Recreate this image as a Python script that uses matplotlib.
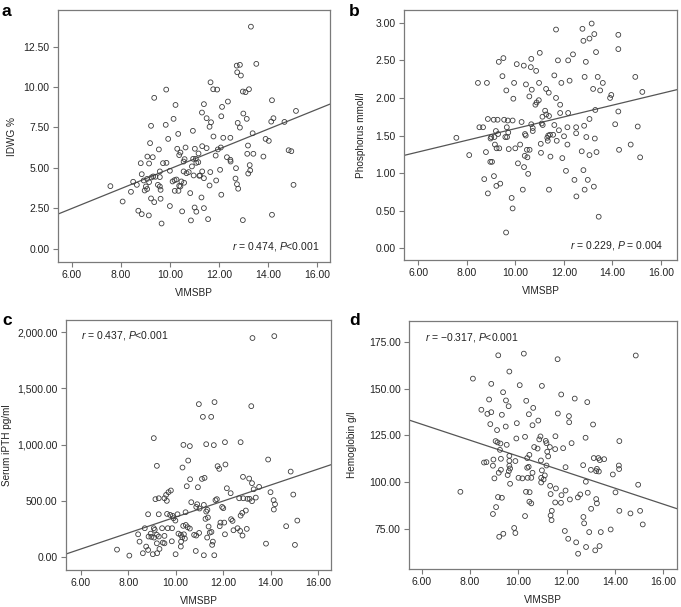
import matplotlib
matplotlib.use("Agg")
import matplotlib.pyplot as plt
from matplotlib.ticker import MultipleLocator, StrMethodFormatter

plt.rcParams["font.family"] = ["Liberation Sans", "DejaVu Sans"]
plt.rcParams["mathtext.fontset"] = "custom"
plt.rcParams["mathtext.it"] = "Liberation Sans:italic"
plt.rcParams["mathtext.rm"] = "Liberation Sans"

# ---- panel a : IDWG % vs VIMSBP ----
vim_a = [13.31,
         12.73, 12.86, 12.75, 12.90, 13.53,
         11.66, 11.77, 11.93, 9.85, 12.98, 13.09, 13.23,
         9.36, 11.39, 10.23, 12.37, 12.13, 14.17,
         15.15, 11.31, 13.00, 12.10, 11.50, 10.15, 14.23, 14.14, 14.68, 11.68, 12.77, 13.14, 9.23, 9.83, 11.62, 12.86,
         10.94, 10.34, 13.38, 11.78, 12.18, 12.47, 9.93, 13.91, 14.04, 9.19, 13.19,
         9.55, 10.30, 10.64, 11.02, 11.32, 11.50, 12.08, 11.96, 10.43, 14.85, 14.96, 9.08, 9.30,
         10.38, 11.17, 11.87, 12.33, 13.16, 13.41, 13.82, 12.47, 12.48, 10.95, 11.06, 10.60, 10.56,
         8.81, 9.15, 9.72, 9.86, 11.08, 11.16, 10.90, 13.26, 12.70, 8.85, 9.59,
         10.00, 10.56, 10.68, 10.77, 10.97, 11.20, 11.32, 11.65, 12.05, 13.20, 13.28,
         8.50, 8.65, 8.93, 9.07, 9.15, 9.25, 9.32, 9.41, 9.59, 10.11, 10.19, 10.27,
         10.47, 10.58, 11.39, 11.23, 11.89, 12.68, 12.74, 15.05, 7.57, 8.41, 9.02, 9.07,
         8.97, 9.51, 9.59, 9.62, 10.20, 10.35, 10.38, 10.43, 11.62, 12.79, 12.10, 10.83,
         8.07, 9.23, 9.36, 9.62, 11.29, 8.71, 8.85, 9.14, 10.00,
         10.50, 11.01, 11.08, 11.39, 9.66, 10.86, 11.56, 12.98, 14.17]
idwg = [13.73,
        11.32, 11.37, 10.91, 10.71, 11.43,
        10.29, 9.86, 9.84, 9.84, 9.72, 9.68, 9.86,
        9.33, 8.94, 8.89, 9.10, 8.77, 9.18,
        8.52, 8.42, 8.36, 8.19, 8.07, 8.03, 8.07, 7.86, 7.84, 7.82, 7.78, 8.03, 7.60, 7.66, 7.54, 7.49,
        7.29, 7.10, 7.14, 6.94, 6.86, 6.86, 6.79, 6.79, 6.67, 6.53, 6.38,
        6.14, 6.18, 6.26, 6.18, 6.34, 6.22, 6.26, 6.14, 5.95, 6.09, 6.03, 5.70, 5.66,
        5.79, 5.89, 5.76, 5.66, 5.87, 5.87, 5.70, 5.50, 5.39, 5.56, 5.56, 5.54, 5.39,
        5.29, 5.27, 5.29, 5.31, 5.31, 5.35, 5.09, 5.17, 4.98, 4.61, 4.78,
        4.82, 4.78, 4.67, 4.74, 4.53, 4.51, 4.78, 4.74, 4.88, 4.65, 4.84,
        4.14, 3.95, 4.22, 4.32, 4.12, 4.41, 4.47, 4.45, 4.43, 4.16, 4.24, 4.28,
        4.16, 4.08, 4.36, 4.53, 4.22, 4.34, 3.99, 3.95, 3.87, 3.52, 3.85, 3.69,
        3.60, 3.95, 3.85, 3.64, 3.58, 3.58, 3.89, 3.85, 3.91, 3.71, 3.34, 3.44,
        2.92, 3.11, 2.88, 3.09, 3.17, 2.35, 2.14, 2.06, 2.64,
        2.31, 2.55, 2.29, 2.51, 1.56, 1.75, 1.83, 1.77, 2.10]
fit_a = (-1.18, 0.612)   # intercept, slope

# ---- panel b : phosphorus ----
vim_b = [13.15, 12.77, 11.68, 13.26, 14.25, 13.06, 12.81, 14.25, 13.33, 11.01,
         12.38, 9.51, 9.32, 10.66, 11.76, 12.18, 12.91, 10.06, 10.35, 10.64,
         10.86, 9.47, 11.61, 12.86, 13.40, 14.95, 8.46, 8.83, 9.95, 10.44,
         10.98, 11.90, 12.24, 13.61, 9.63, 10.68, 11.27, 13.21, 13.50, 15.24,
         11.38, 10.58, 9.92, 11.68, 13.96, 13.91, 10.97, 10.88, 10.83, 11.85,
         14.25, 13.30, 11.23, 11.28, 11.12, 11.39, 11.85, 12.18, 8.87, 9.11,
         9.27, 9.54, 9.69, 9.89, 13.06, 10.66, 11.09, 11.13, 10.26, 8.52,
         8.67, 9.65, 10.72, 11.61, 12.15, 12.51, 12.84, 14.12, 15.05, 9.20,
         10.72, 11.80, 9.71, 9.29, 10.40, 10.43, 12.51, 7.57, 9.01, 9.14,
         9.59, 8.98, 9.66, 11.36, 11.43, 11.56, 12.01, 11.32, 12.93, 13.28,
         11.34, 11.71, 10.20, 11.05, 12.15, 9.16, 9.23, 9.34, 10.00, 9.73,
         10.48, 10.59, 11.06, 12.74, 13.06, 13.35, 14.28, 14.76, 8.79, 8.10,
         10.39, 10.50, 11.45, 11.94, 15.15, 8.97, 9.04, 10.11, 10.36, 12.09,
         12.81, 10.53, 9.12, 8.72, 9.22, 9.38, 12.44, 12.99, 10.31, 11.39,
         12.86, 13.24, 8.87, 12.52, 9.85, 9.89, 13.44, 9.62]
phos = [2.99, 2.92, 2.91, 2.85, 2.84, 2.79, 2.76, 2.65, 2.61, 2.60,
        2.58, 2.53, 2.48, 2.52, 2.50, 2.50, 2.48, 2.45, 2.43, 2.41,
        2.36, 2.29, 2.30, 2.28, 2.28, 2.28, 2.20, 2.20, 2.20, 2.18,
        2.20, 2.20, 2.23, 2.20, 2.10, 2.11, 2.12, 2.12, 2.10, 2.08,
        2.07, 2.02, 1.99, 2.00, 2.04, 2.00, 1.97, 1.94, 1.91, 1.91,
        1.82, 1.84, 1.83, 1.78, 1.75, 1.76, 1.80, 1.80, 1.72, 1.71,
        1.71, 1.71, 1.70, 1.70, 1.72, 1.65, 1.66, 1.64, 1.68, 1.61,
        1.61, 1.61, 1.60, 1.64, 1.61, 1.61, 1.63, 1.65, 1.62, 1.56,
        1.56, 1.57, 1.54, 1.52, 1.52, 1.50, 1.53, 1.47, 1.48, 1.48,
        1.48, 1.46, 1.48, 1.50, 1.51, 1.51, 1.49, 1.47, 1.48, 1.46,
        1.43, 1.43, 1.38, 1.39, 1.38, 1.38, 1.33, 1.33, 1.33, 1.32,
        1.31, 1.31, 1.27, 1.29, 1.24, 1.28, 1.31, 1.38, 1.28, 1.24,
        1.23, 1.21, 1.22, 1.20, 1.21, 1.15, 1.15, 1.13, 1.08, 1.03,
        1.04, 0.99, 0.96, 0.92, 0.83, 0.86, 0.91, 0.91, 0.78, 0.78,
        0.78, 0.82, 0.73, 0.69, 0.67, 0.53, 0.42, 0.21]
fit_b = (0.815, 0.0777)

# ---- panel c : serum iPTH ----
vim_c = [13.24, 14.16, 10.98, 11.64, 13.19, 11.15, 11.50, 9.08, 10.33, 10.60,
         11.29, 11.61, 12.08, 12.74, 10.53, 13.90, 10.29, 9.21, 11.77, 11.84,
         12.10, 14.85, 12.84, 10.61, 11.22, 11.11, 13.10, 13.22, 13.29, 13.52,
         10.47, 10.94, 12.16, 9.80, 14.00, 12.32, 14.96, 9.70, 9.60, 9.15,
         9.29, 9.53, 9.63, 12.68, 12.85, 13.03, 13.12, 13.22, 13.38, 14.13,
         14.19, 11.74, 11.68, 10.66, 10.91, 11.19, 10.87, 11.01, 14.14, 12.01,
         11.96, 11.29, 11.34, 10.42, 12.96, 12.81, 12.74, 8.84, 9.29, 9.64,
         9.77, 10.08, 9.88, 9.91, 9.99, 12.34, 12.40, 11.89, 12.05, 11.86,
         11.36, 11.39, 11.26, 14.66, 15.13, 10.32, 10.51, 10.60, 10.43, 8.70,
         9.08, 9.43, 9.67, 9.85, 9.12, 8.42, 8.95, 9.21, 8.86, 8.98,
         9.09, 9.29, 9.53, 10.12, 10.22, 10.28, 10.35, 10.39, 10.78, 10.87,
         10.99, 11.44, 11.51, 11.33, 12.08, 12.44, 12.61, 12.72, 13.00, 12.82,
         8.48, 9.21, 9.46, 9.53, 9.84, 10.23, 11.57, 13.81, 15.03, 8.76,
         10.22, 8.84, 9.32, 7.53, 11.54, 10.85, 8.62, 9.04, 9.22, 10.00,
         8.05, 11.19, 11.63]
ipth = [1947, 1964, 1360, 1378, 1342, 1247, 1247, 1058, 998, 987,
        1004, 996, 1022, 1022, 859, 868, 797, 812, 809, 785,
        824, 761, 714, 693, 705, 696, 699, 658, 604, 625,
        631, 622, 613, 593, 578, 569, 557, 578, 554, 516,
        524, 524, 501, 524, 524, 519, 519, 498, 530, 507,
        471, 516, 507, 489, 471, 465, 447, 433, 424, 436,
        447, 406, 421, 400, 415, 394, 370, 382, 382, 385,
        376, 382, 367, 347, 326, 338, 323, 308, 308, 276,
        353, 273, 341, 276, 326, 279, 267, 255, 287, 258,
        258, 258, 258, 258, 243, 204, 210, 199, 184, 181,
        175, 184, 190, 210, 199, 178, 204, 166, 199, 193,
        216, 219, 225, 175, 204, 240, 258, 234, 252, 193,
        139, 124, 130, 124, 142, 139, 139, 121, 110, 95,
        95, 65, 74, 68, 110, 56, 36, 27, 36, 27,
        15, 18, 18]
fit_c = (-353.0, 71.0)

# ---- panel d : hemoglobin ----
vim_d = [9.17, 10.23, 11.63, 14.87, 9.63, 8.12, 8.88, 10.06, 10.98, 9.37,
         11.78, 12.34, 12.86, 8.79, 9.49, 10.33, 9.60, 10.62, 8.47, 8.88,
         8.72, 10.44, 9.32, 11.64, 12.10, 12.11, 10.83, 8.84, 9.94, 13.10,
         10.59, 9.48, 9.12, 10.92, 9.92, 12.79, 14.19, 10.28, 11.54, 9.06,
         9.14, 9.26, 9.52, 10.87, 11.14, 10.66, 11.17, 11.31, 11.53, 11.86,
         12.21, 9.24, 10.80, 11.20, 9.63, 10.46, 8.97, 9.28, 9.63, 9.88,
         10.37, 10.94, 11.24, 8.58, 8.68, 8.95, 9.63, 11.17, 11.96, 12.69,
         13.13, 13.32, 13.56, 13.38, 9.28, 9.61, 9.66, 10.37, 10.43, 10.59,
         10.98, 11.10, 13.01, 13.23, 13.26, 13.34, 14.17, 14.18, 9.19, 9.56,
         10.17, 10.39, 10.95, 11.05, 13.92, 9.01, 9.66, 10.01, 10.54, 12.80,
         10.95, 11.32, 11.56, 11.96, 11.79, 11.34, 12.57, 12.88, 12.47, 13.23,
         12.14, 13.26, 11.77, 11.53, 7.60, 9.16, 9.32, 10.32, 10.47, 10.46,
         10.54, 14.03, 14.97, 14.19, 14.65, 15.05, 15.16, 9.08, 8.95, 10.28,
         11.39, 11.34, 11.38, 13.02, 12.70, 12.73, 12.94, 13.42, 13.83, 11.93,
         12.07, 12.40, 12.81, 13.19, 13.37, 12.48, 9.83, 9.88, 9.38, 9.21]
hgb = [168.0, 168.9, 165.9, 167.9, 159.3, 155.5, 152.7, 152.0, 151.6, 148.2,
       147.0, 144.8, 142.9, 144.3, 143.8, 143.6, 140.7, 139.8, 138.8, 137.5,
       136.6, 136.4, 136.1, 136.8, 135.4, 132.1, 133.0, 131.1, 131.6, 130.9,
       130.5, 129.8, 127.9, 124.5, 123.4, 123.8, 122.0, 124.3, 124.6, 122.0,
       121.3, 120.7, 120.0, 122.9, 122.1, 118.8, 120.9, 118.8, 117.7, 118.2,
       120.9, 117.3, 118.0, 116.3, 114.1, 114.6, 112.1, 112.5, 111.4, 111.3,
       112.9, 111.6, 113.8, 110.5, 110.7, 108.8, 108.8, 108.9, 108.0, 109.1,
       112.9, 112.9, 112.3, 111.8, 106.6, 105.9, 107.3, 107.7, 108.2, 105.0,
       106.3, 103.6, 106.6, 105.9, 107.1, 105.7, 108.9, 107.0, 105.0, 103.8,
       102.0, 102.3, 102.3, 101.4, 104.1, 102.0, 99.1, 102.3, 102.3, 100.2,
       99.8, 98.0, 96.6, 95.5, 93.0, 93.6, 93.4, 94.3, 91.8, 90.9,
       90.7, 88.6, 88.9, 89.1, 94.8, 92.0, 91.6, 94.8, 94.6, 89.5,
       88.6, 94.5, 98.6, 84.6, 83.2, 84.6, 77.3, 86.6, 82.9, 81.8,
       84.6, 82.1, 79.6, 85.7, 81.3, 77.9, 73.2, 73.2, 74.6, 73.8,
       69.6, 67.7, 65.2, 63.4, 65.7, 61.6, 75.4, 72.7, 72.3, 70.7]
fit_d = (156.7, -4.28)

x_ticks = [6, 8, 10, 12, 14, 16]

W, H = 681, 607
fig = plt.figure(figsize=(W / 100, H / 100), dpi=100)
FRAME = "#7a7a7a"
PT = "#3c3c3c"
FS = 7.5


def box(l, t, r, b):
    return fig.add_axes([l / W, 1 - b / H, (r - l) / W, (b - t) / H])


def panel(ax, x, y, fit, xlim, ylim, ystep, yfmt, ylabel, ylab_x, note, note_xy, note_ha):
    ax.scatter(x, y, s=12, facecolors="none", edgecolors=PT, linewidths=0.6, zorder=3)
    ax.axline((0, fit[0]), slope=fit[1], color="#555555", lw=0.9, zorder=2)
    ax.set_xlim(*xlim)
    ax.set_ylim(*ylim)
    ax.set_xticks(x_ticks)
    ax.xaxis.set_major_formatter(StrMethodFormatter("{x:.2f}"))
    ax.yaxis.set_major_locator(MultipleLocator(ystep))
    ax.yaxis.set_major_formatter(StrMethodFormatter(yfmt))
    ax.tick_params(direction="out", length=3.5, width=0.8, color=FRAME,
                   labelsize=FS, pad=2.5, labelcolor="#222222")
    for s in ax.spines.values():
        s.set_color(FRAME)
        s.set_linewidth(0.9)
    ax.set_xlabel("VIMSBP", fontsize=7.2, color="#222222")
    ax.xaxis.set_label_coords(0.5, -0.105)
    ax.set_ylabel(ylabel, fontsize=7.2, color="#222222")
    ax.yaxis.set_label_coords(ylab_x, 0.5)
    ax.text(note_xy[0], note_xy[1], note, transform=ax.transAxes, ha=note_ha,
            va="center", fontsize=FS, color="#222222")


ax_a = box(58, 10, 330, 262)
panel(ax_a, vim_a, idwg, fit_a, (5.43, 16.54), (-0.82, 14.76), 2.5, "{x:.2f}",
      "IDWG %", -0.152, r"$r$ = 0.474, $P$<0.001", (0.96, 0.063), "right")

ax_b = box(404, 10, 677, 260)
panel(ax_b, vim_b, phos, fit_b, (5.41, 16.67), (-0.156, 3.17), 0.5, "{x:.2f}",
      "Phosphorus mmol/l", -0.14, r"$r$ = 0.229, $P$ = 0.004", (0.949, 0.056), "right")

ax_c = box(66, 320, 331, 570)
panel(ax_c, vim_c, ipth, fit_c, (5.38, 16.55), (-113, 2107), 500, "{x:,.2f}",
      "Serum iPTH pg/ml", -0.205, r"$r$ = 0.437, $P$<0.001", (0.057, 0.936), "left")

ax_d = box(409, 321, 677, 569)
panel(ax_d, vim_d, hgb, fit_d, (5.47, 16.58), (53.4, 186.4), 25, "{x:.2f}",
      "Hemoglobin g/l", -0.194, r"$r$ = $-$0.317, $P$<0.001", (0.06, 0.935), "left")
ax_d.set_yticks([75, 100, 125, 150, 175])

for letter, px, py in [("a", 2, 16), ("b", 349, 16), ("c", 2, 325), ("d", 349, 325)]:
    fig.text(px / W, 1 - py / H, letter, fontsize=12.5, fontweight="bold",
             ha="left", va="baseline")

fig.savefig("out.png", dpi=100, facecolor="white")
